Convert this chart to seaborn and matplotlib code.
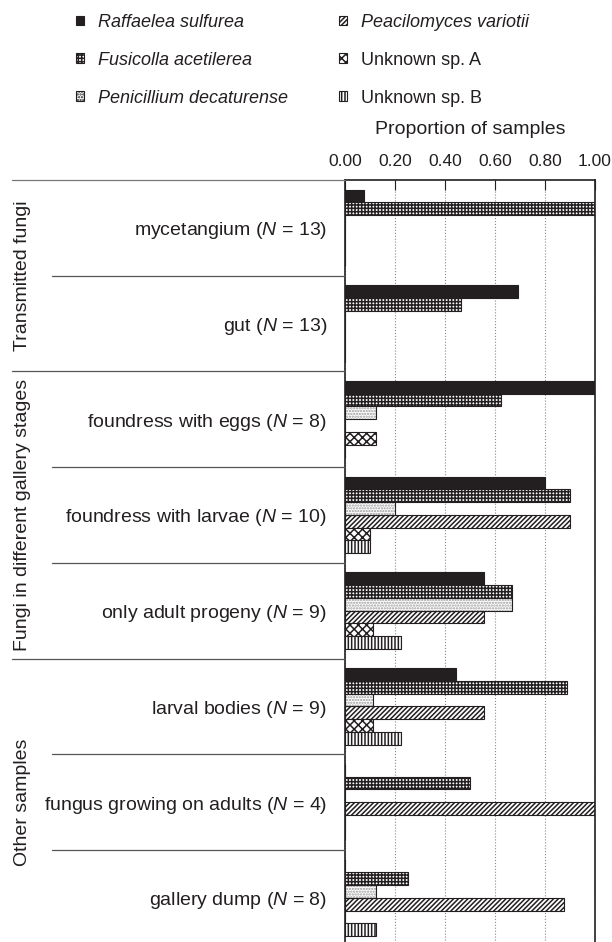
import seaborn as sns
import matplotlib.pyplot as plt
import matplotlib.transforms as mtransforms
from matplotlib.patches import Patch, Rectangle
from matplotlib.lines import Line2D
import pandas as pd

# sample types and their sample sizes
sites = ['mycetangium', 'gut', 'foundress with eggs', 'foundress with larvae',
         'only adult progeny', 'larval bodies', 'fungus growing on adults', 'gallery dump']
sample_n = [13, 13, 8, 10, 9, 9, 4, 8]

groups = ['Transmitted fungi', 'Fungi in different gallery stages', 'Other samples']
group_sizes = [2, 3, 3]

species = ['Raffaelea sulfurea', 'Fusicolla acetilerea', 'Penicillium decaturense',
           'Peacilomyces variotii', 'Unknown sp. A', 'Unknown sp. B']
italic_species = [True, True, True, True, False, False]

# proportion of samples with each fungus
raffaelea = [0.077, 0.692, 1.00, 0.80, 0.556, 0.444, 0.0, 0.0]
fusicolla = [1.00, 0.462, 0.625, 0.90, 0.667, 0.889, 0.50, 0.25]
penicillium = [0.0, 0.0, 0.125, 0.20, 0.667, 0.111, 0.0, 0.125]
peacilomyces = [0.0, 0.0, 0.0, 0.90, 0.556, 0.556, 1.00, 0.875]
unknown_a = [0.0, 0.0, 0.125, 0.10, 0.111, 0.111, 0.0, 0.0]
unknown_b = [0.0, 0.0, 0.0, 0.10, 0.222, 0.222, 0.0, 0.125]
values = [raffaelea, fusicolla, penicillium, peacilomyces, unknown_a, unknown_b]

ticks = [0.0, 0.2, 0.4, 0.6, 0.8, 1.0]
tick_labels = ['0.00', '0.20', '0.40', '0.60', '0.80', '1.00']

labels = [f'{s} ($\\mathit{{N}}$ = {n})' for s, n in zip(sites, sample_n)]
rows = []
for sp, vals in zip(species, values):
    for lab, v in zip(labels, vals):
        rows.append({'site': lab, 'species': sp, 'proportion': v})
df = pd.DataFrame(rows)

ink = '#231f20'
sns.set_theme(style='white')
plt.rcParams['font.family'] = ['Liberation Sans', 'DejaVu Sans']
plt.rcParams['mathtext.fontset'] = 'custom'
plt.rcParams['mathtext.rm'] = 'Liberation Sans'
plt.rcParams['mathtext.it'] = 'Liberation Sans:italic'
plt.rcParams['hatch.linewidth'] = 1.1
plt.rcParams['text.color'] = ink

W, H = 612, 942
fig = plt.figure(figsize=(W / 100, H / 100), dpi=100)
ax = fig.add_axes([345 / W, (H - 945.6) / H, 250 / W, 765.6 / H])

palette = dict(zip(species, [ink] + ['white'] * 5))
sns.barplot(data=df, x='proportion', y='site', hue='species', hue_order=species,
            order=labels, orient='h', palette=palette, saturation=1,
            edgecolor=ink, linewidth=0.8, width=0.8, errorbar=None,
            legend=False, ax=ax)

hatches = ['', '+++++', '......', '///////', 'xxxx', '|||||']
for cont, h in zip(ax.containers, hatches):
    for bar in cont:
        bar.set_hatch(h)

# grey dots for Penicillium, keep a dark outline on top
for bar in ax.containers[2]:
    bar.set_edgecolor('#9a9a9a')
    bar.set_linewidth(0)
    ax.add_patch(Rectangle((bar.get_x(), bar.get_y()), bar.get_width(), bar.get_height(),
                           fill=False, edgecolor=ink, lw=0.8, zorder=bar.get_zorder() + 0.1))

ax.set_xlim(0, 1)
ax.set_ylim(7.5, -0.5)
ax.xaxis.tick_top()
ax.xaxis.set_label_position('top')
ax.set_xticks(ticks)
ax.set_xticklabels(tick_labels)
ax.tick_params(axis='x', direction='in', length=7, width=0.8, color=ink,
               pad=8, labelsize=12.5, labelcolor=ink)
ax.tick_params(axis='y', length=0, pad=13, labelsize=14, labelcolor=ink)
ax.set_xlabel('Proportion of samples', fontsize=14, labelpad=14, color=ink)
ax.set_ylabel('')
ax.grid(axis='x', linestyle=':', color='#8a8a8a', lw=0.8)
ax.set_axisbelow(True)
ax.spines['bottom'].set_visible(False)
for s in ['top', 'left', 'right']:
    ax.spines[s].set_color(ink)
    ax.spines[s].set_linewidth(1.2)

# separators on the left
trans = mtransforms.blended_transform_factory(fig.transFigure, ax.transData)
group_ends = []
start = 0
for g, size in zip(groups, group_sizes):
    fig.text(23 / W, start + size / 2 - 0.5, g, rotation=90, ha='center', va='center',
             fontsize=14, color=ink, transform=trans)
    start += size
    group_ends.append(start)
for i in range(1, len(sites)):
    x0 = 12 / W if i in group_ends else 52 / W
    fig.add_artist(Line2D([x0, 345 / W], [i - 0.5, i - 0.5], transform=trans,
                          color='#555555', lw=0.9))
trans_top = mtransforms.blended_transform_factory(fig.transFigure, ax.transAxes)
fig.add_artist(Line2D([12 / W, 345 / W], [1, 1], transform=trans_top, color='#777777', lw=0.9))

# legend
handles = [Patch(facecolor=palette[s], edgecolor=ink, hatch=h, lw=0.8)
           for s, h in zip(species, hatches)]
leg = fig.legend(handles, species, ncol=2, loc='upper left',
                 bbox_to_anchor=(76 / W, 1 - 14 / H), frameon=False, fontsize=13,
                 handlelength=0.45, handleheight=0.45, handletextpad=0.78,
                 columnspacing=2.8, labelspacing=1.15, borderpad=0, borderaxespad=0)
for t, it in zip(leg.get_texts(), italic_species):
    t.set_color(ink)
    if it:
        t.set_style('italic')

fig.savefig('out.png', dpi=100)
